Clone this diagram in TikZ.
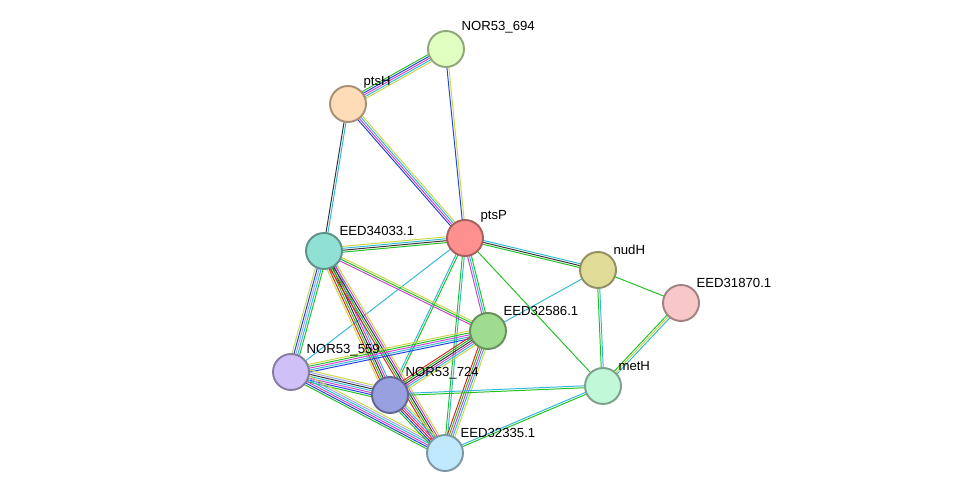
\documentclass[tikz,border=0pt]{standalone}
\usepackage{fontspec}
\setmainfont{Liberation Sans}
\usetikzlibrary{calc,backgrounds}
\definecolor{cNb}{HTML}{22C022}
\definecolor{cTm}{HTML}{C8D840}
\definecolor{cCx}{HTML}{333333}
\definecolor{cEx}{HTML}{D040D0}
\definecolor{cDb}{HTML}{30B8D8}
\definecolor{cFu}{HTML}{E02020}
\definecolor{cCo}{HTML}{2040E0}
\definecolor{cHo}{HTML}{A0A0F0}
\definecolor{fA}{HTML}{E0FFC0}
\definecolor{fB}{HTML}{FFDCB8}
\definecolor{fC}{HTML}{FF9090}
\definecolor{fD}{HTML}{90E0D4}
\definecolor{fE}{HTML}{E0DC98}
\definecolor{fF}{HTML}{F8C8C8}
\definecolor{fG}{HTML}{A0DC90}
\definecolor{fH}{HTML}{D0C0F8}
\definecolor{fI}{HTML}{98A0E0}
\definecolor{fJ}{HTML}{C0F8D8}
\definecolor{fK}{HTML}{C0E8FC}
\tikzset{
  prot/.style={circle, draw=#1!65!black, fill=#1, line width=1.1pt, minimum size=0.72cm, inner sep=0pt},
  lbl/.style={font=\fontsize{7.5}{8}\selectfont, inner sep=1pt}
}
% bundle of parallel coloured lines between two nodes
\newcommand{\bund}[4]{%
  \foreach \c [count=\i] in {#4} {
    \draw[\c, line width=0.55pt]
      ($(#1.center)!{(\i-(#3+1)/2)*1.1pt}!90:(#2.center)$) --
      ($(#2.center)!{(\i-(#3+1)/2)*1.1pt}!-90:(#1.center)$);
  }}
\begin{document}
\begin{tikzpicture}[x=0.02cm, y=-0.02cm]
\useasboundingbox (0,0) rectangle (976,499);
\node[prot=fA, label={[lbl, anchor=south west]45:NOR53\_694}] (n694) at (446,49) {};
\node[prot=fB, label={[lbl, anchor=south west]45:ptsH}] (ptsH) at (348,104) {};
\node[prot=fC, label={[lbl, anchor=south west]45:ptsP}] (ptsP) at (465,238) {};
\node[prot=fD, label={[lbl, anchor=south west]45:EED34033.1}] (e34033) at (324,251) {};
\node[prot=fE, label={[lbl, anchor=south west]45:nudH}] (nudH) at (598,270) {};
\node[prot=fF, label={[lbl, anchor=south west]45:EED31870.1}] (e31870) at (681,303) {};
\node[prot=fG, label={[lbl, anchor=south west]45:EED32586.1}] (e32586) at (488,331) {};
\node[prot=fH, label={[lbl, anchor=south west]45:NOR53\_559}] (n559) at (291,372) {};
\node[prot=fI, label={[lbl, anchor=south west]45:NOR53\_724}] (n724) at (390,395) {};
\node[prot=fJ, label={[lbl, anchor=south west]45:metH}] (metH) at (603,386) {};
\node[prot=fK, label={[lbl, anchor=south west]45:EED32335.1}] (e32335) at (445,453) {};
\begin{pgfonlayer}{background}
\bund{n694}{ptsH}{5}{cNb,cCo,cEx,cDb,cTm}
\bund{n694}{ptsP}{2}{cCo,cTm}
\bund{ptsH}{ptsP}{4}{cCo,cEx,cDb,cTm}
\bund{ptsH}{e34033}{2}{cCx,cDb}
\bund{e34033}{ptsP}{4}{cNb,cCx,cDb,cTm}
\bund{ptsP}{nudH}{3}{cNb,cCx,cDb}
\bund{ptsP}{e32586}{3}{cEx,cDb,cNb}
\bund{ptsP}{metH}{1}{cNb}
\bund{ptsP}{n559}{1}{cDb}
\bund{ptsP}{n724}{2}{cDb,cNb}
\bund{ptsP}{e32335}{2}{cNb,cDb}
\bund{nudH}{e31870}{1}{cNb}
\bund{nudH}{metH}{2}{cNb,cDb}
\bund{nudH}{e32586}{1}{cDb}
\bund{e31870}{metH}{3}{cNb,cTm,cDb}
\bund{e34033}{e32586}{3}{cEx,cNb,cTm}
\bund{e34033}{n559}{5}{cTm,cCo,cHo,cDb,cNb}
\bund{e34033}{n724}{6}{cTm,cFu,cNb,cCx,cEx,cDb}
\bund{e34033}{e32335}{5}{cFu,cNb,cCx,cEx,cTm}
\bund{e32586}{n559}{5}{cTm,cNb,cEx,cDb,cCo}
\bund{e32586}{n724}{6}{cFu,cNb,cCx,cEx,cDb,cTm}
\bund{e32586}{e32335}{5}{cFu,cNb,cEx,cDb,cTm}
\bund{n559}{n724}{7}{cNb,cCo,cEx,cDb,cCx,cHo,cTm}
\bund{n559}{e32335}{6}{cNb,cCo,cEx,cDb,cHo,cTm}
\bund{n724}{e32335}{6}{cNb,cCo,cFu,cEx,cDb,cTm}
\bund{n724}{metH}{2}{cNb,cDb}
\bund{e32335}{metH}{2}{cNb,cDb}
\end{pgfonlayer}
\end{tikzpicture}
\end{document}
